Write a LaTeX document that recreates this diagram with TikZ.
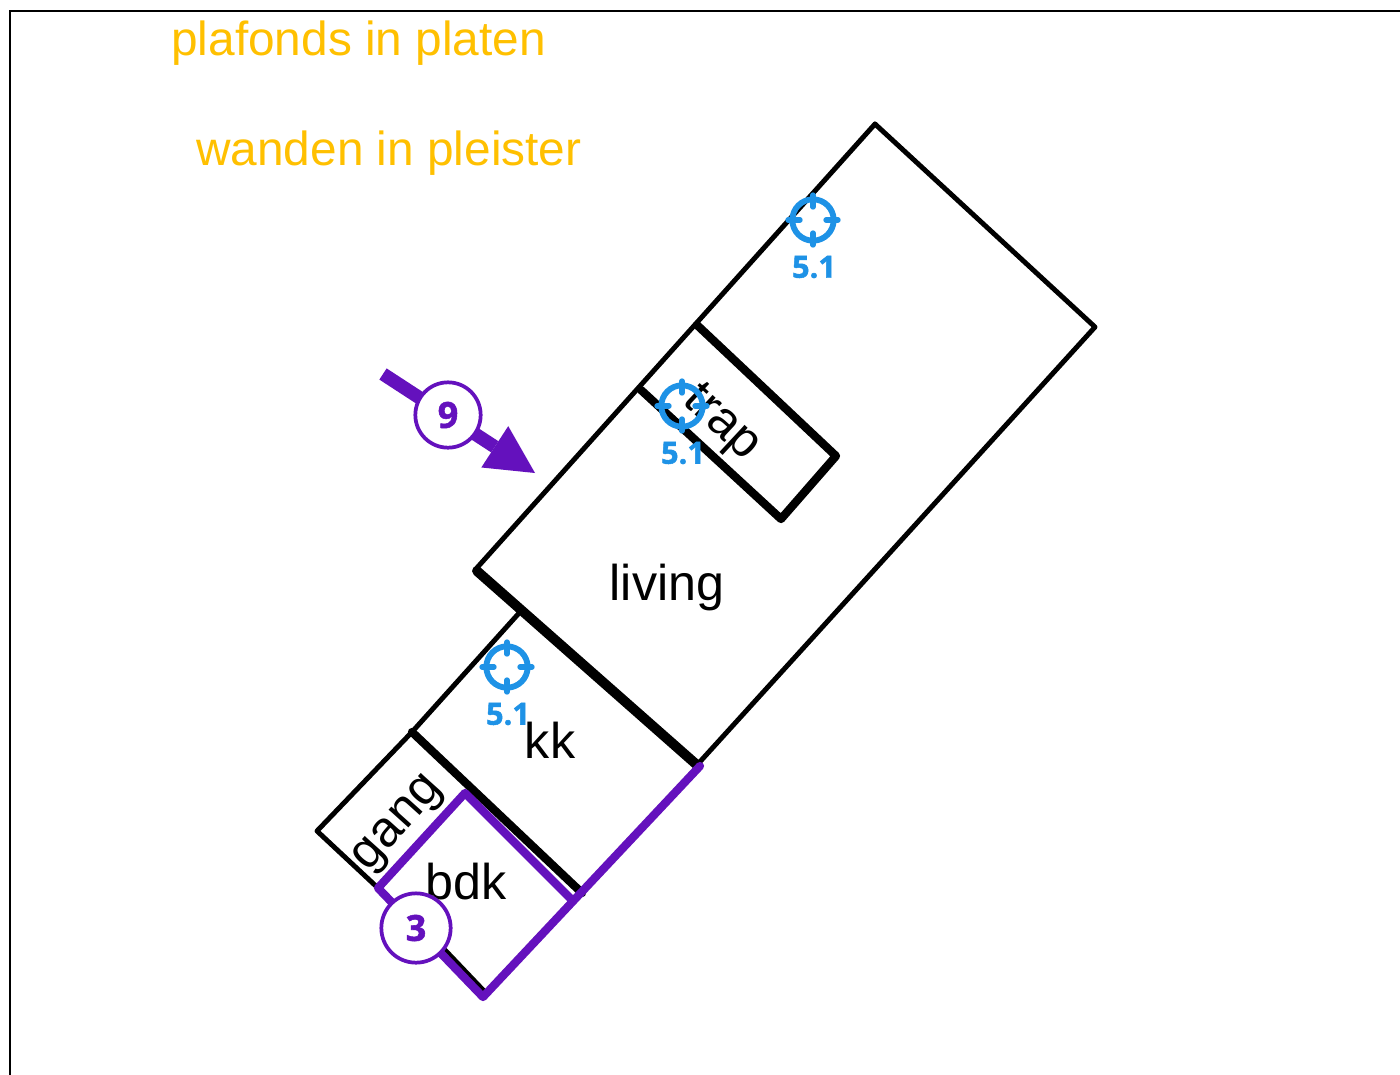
\documentclass[tikz,border=0pt]{standalone}
\usepackage{fontspec}
\setmainfont{Liberation Sans}
\newfontfamily\markfont{Open Sans}[BoldFont={Open Sans Bold},BoldFeatures={FakeBold=1.5}]
\usetikzlibrary{arrows.meta}
\definecolor{tagpurple}{HTML}{6411BD}
\definecolor{tagblue}{HTML}{1E92E6}
\definecolor{noteyellow}{HTML}{FFC000}
\tikzset{
  px/.style={x=0.75pt,y=-0.75pt},
  wall/.style={draw=black,line width=3.7pt,line join=round,line cap=round},
  thickwall/.style={draw=black,line width=6.2pt,line join=round,line cap=round},
  heavywall/.style={draw=black,line width=7.4pt,line join=round,line cap=round},
  zone/.style={draw=tagpurple,line width=6.2pt,line join=round,line cap=round},
  room/.style={text=black,font=\fontsize{37.7}{38}\selectfont,inner sep=0pt},
  note/.style={text=noteyellow,font=\fontsize{35.85}{36}\selectfont,inner sep=0pt},
  badge/.style={circle,draw=tagpurple,fill=white,line width=2.8pt,minimum size=49pt,inner sep=0pt,text=tagpurple,font=\markfont\bfseries\fontsize{27}{27}\selectfont},
  targetring/.style={circle,draw=tagblue,line width=4.4pt,minimum size=31pt,inner sep=0pt},
  targettick/.style={draw=tagblue,line width=4pt,line cap=round},
  targetlabel/.style={text=tagblue,font=\markfont\bfseries\fontsize{23}{23}\selectfont,inner sep=0pt},
}
\newcommand{\targetmark}[3]{%
  \node[targetring] (#1) at (#2,#3) {};
  \draw[targettick] (#2-25,#3) -- (#2-13,#3);
  \draw[targettick] (#2+13,#3) -- (#2+25,#3);
  \draw[targettick] (#2,#3-25) -- (#2,#3-13);
  \draw[targettick] (#2,#3+13) -- (#2,#3+25);
  \node[targetlabel] (#1l) at (#2+1,#3+47) {5.1};
}
\begin{document}
\begin{tikzpicture}[px]
\useasboundingbox (0,0) rectangle (1400,1075);
\fill[white] (0,0) rectangle (1400,1075);
% frame
\draw[black,line width=1.8pt] (10,1075) -- (10,11) -- (1400,11);
% notes
\node[note,anchor=base west] (n1) at (171,55) {plafonds in platen};
\node[note,anchor=base west] (n2) at (196,165) {wanden in pleister};
% walls
\draw[wall] (875,124) -- (1095,327) -- (697,765);
\draw[wall] (875,124) -- (475,570);
\draw[wall] (520,612) -- (412,732) -- (317,831) -- (378,888);
\draw[wall] (445,950) -- (485,992);
\draw[thickwall] (697,325) -- (836,456) -- (781,519) -- (641,390);
\draw[heavywall] (477,571) -- (697,765);
\draw[thickwall] (412,732) -- (582,893);
% room labels
\node[room] (living) at (667,587) {living};
\node[room,rotate=-43] (trap) at (721,424) {trap};
\node[room] (kk) at (550,740) {kk};
\node[room,rotate=48] (gang) at (400,825) {gang};
\node[room] (bdk) at (466,882) {bdk};
% purple outline
\draw[zone] (700,766) -- (483,997) -- (378,888) -- (465,793) -- (572,900);
% targets
\targetmark{ta}{813}{220}
\targetmark{tb}{682}{406}
\targetmark{tc}{507}{667}
% view arrow
\coordinate (vs) at (383,374);
\coordinate (ve) at (535,473);
\draw[tagpurple,line width=10pt,-{Triangle[length=36pt,width=37pt,line width=0pt]}] (vs) -- (ve);
\node[badge] (b9) at (448,415) {9};
\node[badge,minimum size=52pt] (b3) at (416,928) {3};
\end{tikzpicture}
\end{document}
